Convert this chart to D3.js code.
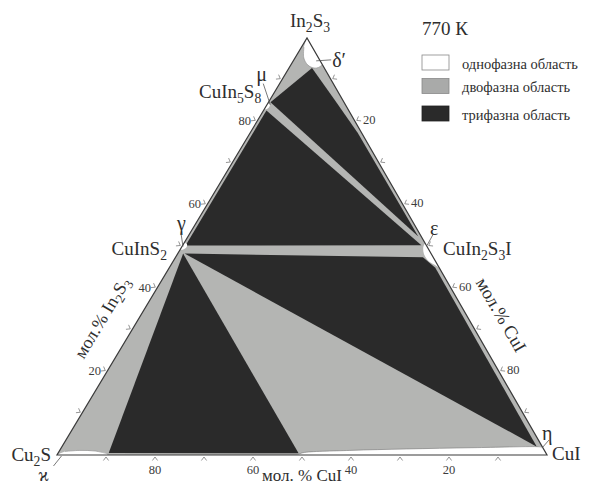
<!DOCTYPE html>
<html>
<head>
<meta charset="utf-8">
<script src="https://cdn.jsdelivr.net/npm/d3@7"></script>
<style>
  html, body { margin: 0; padding: 0; background: #fff; }
  svg { display: block; }
  text { font-family: "Liberation Serif", "DejaVu Serif", serif; fill: #2e2e2e; }
</style>
</head>
<body>
<svg id="chart" width="589" height="488"></svg>
<script>
// ---------- DATA (compositions as [mol.% CuI, mol.% In2S3], rest Cu2S) ----------
const temperatureLabel = "770 К";
const vertices = [
  { name: "Cu_2S", comp: [0, 0] },
  { name: "CuI", comp: [100, 0] },
  { name: "In_2S_3", comp: [0, 100] }
];
const phases = [
  { name: "CuInS_2", greek: "γ", comp: [0, 50] },
  { name: "CuIn_5S_8", greek: "μ", comp: [0, 83.3] },
  { name: "CuIn_2S_3I", greek: "ε", comp: [50, 50] },
  { name: "", greek: "δ′", comp: [3, 95] },
  { name: "", greek: "η", comp: [98, 1.9] },
  { name: "", greek: "ϰ", comp: [0.3, 0] }
];
const tickValues = [10, 20, 30, 40, 50, 60, 70, 80, 90];
const labeledTicks = [20, 40, 60, 80];
const bottomTickText = ["80", "60", "40", "20"];   // along Cu2S–CuI at CuI = 20,40,60,80
const leftTickText = ["20", "40", "60", "80"];     // In2S3 = 20..80
const rightTickText = ["20", "40", "60", "80"];    // CuI = 20..80 along In2S3–CuI
const legendLabels = ["однофазна область", "двофазна область", "трифазна область"];
const bottomTitle = "мол. % CuI";
const leftTitle = "мол.% In_2S_3";
const rightTitle = "мол.% CuI";

// three-phase (black) regions
const threePhaseLowerLeft = [[1.1, 48.3], [10.3, 0.5], [49.1, 0.4]];
const threePhaseLowerRight = [[1.4, 48.3], [50.5, 47.4], [52.2, 46.3], [54.3, 44.9], [96.9, 2.0]];
const threePhaseMiddle = [[0.6, 50.25], [0.6, 82.6], [48.7, 50.3]];
const threePhaseTop = [[0.4, 84.6], [4.7, 92.8], [13.3, 85.1], [22.0, 77.2], [47.0, 52.4]];
// single-phase (white) regions
const onePhaseKappa = [[0, 0], [1.2, 0.85], [4.1, 1.1], [7.3, 0.95], [10, 0.35], [10.3, 0]];
const onePhaseEta = [[48.9, 0], [49.2, 0.15], [49.9, 0.55], [59.2, 1.1], [70.6, 1.45], [84.0, 1.75], [96.9, 2.0], [98.1, 1.9], [100, 0]];
const onePhaseDelta = [[0, 100], [0.5, 97.8], [1.8, 95.2], [3.5, 93.5], [5.1, 92.8], [5.9, 92.9], [6.4, 93.6]];
const onePhaseEps = [[49.2, 50.8], [49.3, 49.9], [50.3, 48.2], [52.0, 46.6], [53.8, 45.6], [55.2, 44.8]];
const onePhaseGamma = [[0, 50.9], [0.7, 50.6], [1.0, 49.9], [0.6, 49.3], [0, 49.2]];
const onePhaseMu = [[0, 84.3], [0.6, 84.0], [0.7, 83.3], [0.3, 82.9], [0, 83.0]];

// ---------- SCALES / PROJECTION ----------
const xCuI = d3.scaleLinear().domain([0, 100]).range([57, 547]);
const yIn = d3.scaleLinear().domain([0, 100]).range([455, 38]);
const xShiftIn = d3.scaleLinear().domain([0, 100]).range([0, 250]);
const project = c => [xCuI(c[0]) + xShiftIn(c[1]), yIn(c[1])];

const COL_GRAY = "#b4b5b3", COL_BLACK = "#2a2a2a", COL_EDGE = "#3a3a3a";

const svg = d3.select("#chart");
const line = d3.line().x(d => project(d)[0]).y(d => project(d)[1]);
const smooth = d3.line().x(d => project(d)[0]).y(d => project(d)[1]).curve(d3.curveCatmullRom.alpha(0.5));

function chem(sel, str, size) {
  // "In_2S_3" -> subscripts
  sel.attr("font-size", size);
  const parts = str.split(/(_\d+)/).filter(s => s.length);
  let shifted = false;
  parts.forEach(p => {
    if (p.startsWith("_")) {
      sel.append("tspan").attr("font-size", size * 0.72).attr("dy", size * 0.28).text(p.slice(1));
      shifted = true;
    } else {
      const t = sel.append("tspan").attr("font-size", size).text(p);
      if (shifted) { t.attr("dy", -size * 0.28); shifted = false; }
    }
  });
}

// ---------- REGIONS ----------
const tri = vertices.map(v => v.comp);
svg.append("path").attr("d", line(tri) + "Z").attr("fill", COL_GRAY);

[threePhaseLowerLeft, threePhaseLowerRight, threePhaseMiddle, threePhaseTop].forEach(p => {
  svg.append("path").attr("d", line(p) + "Z").attr("fill", COL_BLACK);
});

[onePhaseKappa, onePhaseEta, onePhaseEps, onePhaseGamma, onePhaseMu].forEach(p => {
  svg.append("path").attr("d", smooth(p) + "Z").attr("fill", "#fff");
});
svg.append("path").attr("d", smooth(onePhaseDelta) + "Z").attr("fill", "#fff");
svg.append("path").attr("d", smooth(onePhaseDelta.slice(1))).attr("fill", "none").attr("stroke", "#8a8a8a").attr("stroke-width", 0.6);
svg.append("path").attr("d", smooth(onePhaseEta.slice(1, -1))).attr("fill", "none").attr("stroke", "#777").attr("stroke-width", 0.6);
svg.append("path").attr("d", smooth(onePhaseKappa.slice(1, -1))).attr("fill", "none").attr("stroke", "#888").attr("stroke-width", 0.6);

// triangle outline
svg.append("path").attr("d", line(tri) + "Z").attr("fill", "none").attr("stroke", COL_EDGE).attr("stroke-width", 1.2);

// ---------- TICKS ----------
const edges = [
  { pt: v => [v, 0], n: [0, 1] },                           // bottom
  { pt: v => [0, v], n: [-0.858, -0.514] },                 // left
  { pt: v => [v, 100 - v], n: [0.867, -0.499] }             // right
];
edges.forEach(e => {
  tickValues.forEach(v => {
    const [px, py] = project(e.pt(v));
    const [nx, ny] = e.n, tx = -ny, ty = nx;
    const a = [px + nx * 2, py + ny * 2];
    const b1 = [px + nx * 5.5 + tx * 2.6, py + ny * 5.5 + ty * 2.6];
    const b2 = [px + nx * 5.5 - tx * 2.6, py + ny * 5.5 - ty * 2.6];
    svg.append("path").attr("d", `M${b1}L${a}L${b2}`).attr("fill", "none").attr("stroke", "#666").attr("stroke-width", 0.7);
  });
});
const TICKCOL = "#3c3c3c";
labeledTicks.forEach((v, i) => {
  let p = project([v, 0]);
  svg.append("text").attr("x", p[0]).attr("y", p[1] + 19).attr("text-anchor", "middle").attr("font-size", 12.5).style("fill", TICKCOL).text(bottomTickText[i]);
  p = project([0, v]);
  svg.append("text").attr("x", p[0] - 6).attr("y", p[1] + 3.5).attr("text-anchor", "end").attr("font-size", 12.5).style("fill", TICKCOL).text(leftTickText[i]);
  p = project([v, 100 - v]);
  svg.append("text").attr("x", p[0] + 8).attr("y", p[1] + 2.5).attr("text-anchor", "start").attr("font-size", 12.5).style("fill", TICKCOL).text(rightTickText[i]);
});

// ---------- AXIS TITLES ----------
svg.append("text").attr("x", 262).attr("y", 481).attr("font-size", 17).text(bottomTitle);
{
  const p = project([0, 29]);
  const c = [p[0] - 0.858 * 32, p[1] - 0.514 * 32];
  const t = svg.append("text").attr("text-anchor", "middle").attr("dominant-baseline", "central")
    .attr("transform", `translate(${c}) rotate(-59)`);
  chem(t, leftTitle, 18);
}
{
  const p = project([70, 30]);
  const c = [p[0] + 0.867 * 30, p[1] - 0.499 * 30];
  svg.append("text").attr("text-anchor", "middle").attr("dominant-baseline", "central")
    .attr("transform", `translate(${c}) rotate(60)`).attr("font-size", 18.5).text(rightTitle);
}

// ---------- VERTEX / PHASE LABELS ----------
const FS = 19;
function label(txt, x, y, anchor) {
  const t = svg.append("text").attr("x", x).attr("y", y).attr("text-anchor", anchor || "start");
  chem(t, txt, FS);
  return t;
}
let P;
P = project(vertices[2].comp); label(vertices[2].name, P[0] + 3, P[1] - 11, "middle");
P = project(vertices[0].comp); label(vertices[0].name, P[0] - 6, P[1] + 6, "end");
P = project(vertices[1].comp); label(vertices[1].name, P[0] + 5, P[1] + 5, "start");
P = project(phases[0].comp); label(phases[0].name, P[0] - 15, P[1] + 8, "end");
P = project(phases[1].comp); label(phases[1].name, P[0] - 4, P[1] - 10, "end");
P = project(phases[2].comp); label(phases[2].name, P[0] + 16, P[1] + 8, "start");

function greek(i, dx, dy, l1, l2, fs) {
  const p = project(phases[i].comp);
  svg.append("text").attr("x", p[0] + dx).attr("y", p[1] + dy).attr("font-size", fs || 20).text(phases[i].greek);
  svg.append("line").attr("x1", p[0] + l1[0]).attr("y1", p[1] + l1[1]).attr("x2", p[0] + l2[0]).attr("y2", p[1] + l2[1])
    .attr("stroke", "#555").attr("stroke-width", 0.8);
}
greek(0, -5, -17, [-1, -13], [1, 0]);     // γ
greek(1, -9, -27, [-2, -24], [5, -3]);    // μ
greek(2, 3, -12, [6, -12], [0, -1]);      // ε
greek(3, 23, 8, [7, 2], [22, 1]);         // δ′
greek(4, 0, -7, [7, -7], [0, 1]);         // η
greek(5, -20, 26, [-5, 11], [3, 1], 18);  // ϰ

// ---------- LEGEND ----------
svg.append("text").attr("x", 422).attr("y", 35).attr("font-size", 19).text(temperatureLabel);
const legendFills = ["#ffffff", "#a9aaa9", COL_BLACK];
const legendY = [55, 78.5, 106];
legendLabels.forEach((l, i) => {
  svg.append("rect").attr("x", 422).attr("y", legendY[i]).attr("width", 27).attr("height", 15)
    .attr("fill", legendFills[i]).attr("stroke", i === 2 ? "#222" : "#888").attr("stroke-width", 0.8);
  svg.append("text").attr("x", 462).attr("y", legendY[i] + 13.5).attr("font-size", 14.5).text(l);
});
</script>
</body>
</html>
